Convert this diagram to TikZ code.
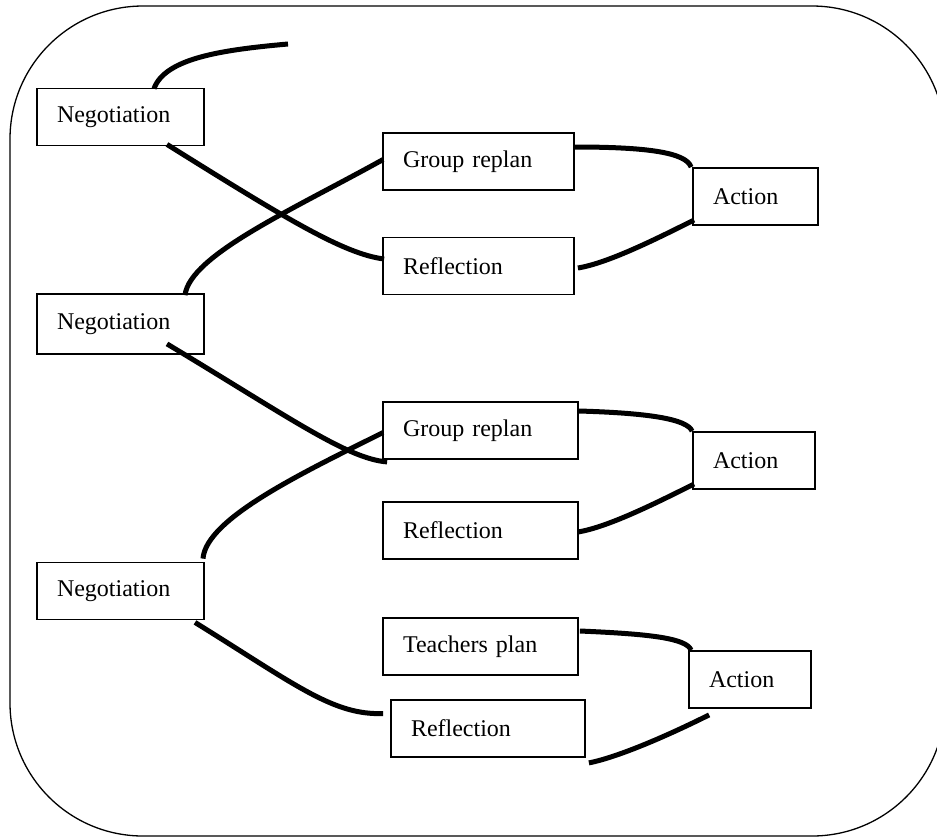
\documentclass[tikz,border=0pt]{standalone}
\usepackage{fontspec}
\setmainfont{Liberation Serif}
\usetikzlibrary{calc}

\begin{document}
\begin{tikzpicture}[x=0.5pt,y=-0.5pt]
\tikzstyle{box}=[rectangle, draw=black, line width=0.9pt, inner xsep=10pt, inner ysep=0pt, minimum height=28.5pt, align=left, font=\fontsize{12}{14}\selectfont]
\tikzstyle{link}=[line width=2.5pt]
\tikzstyle{frame}=[line width=0.65pt, rounded corners=66.5pt]
\useasboundingbox (0,0) rectangle (937,837);
\begin{scope}
\clip (0,0) rectangle (937,837);
\draw[frame] (10,6) rectangle (945,836);
\end{scope}
% left column
\node[box, text width=63.5pt] (nego1) at (120.5,117) {Negotiation};
\node[box, text width=63.5pt, minimum height=30pt] (nego2) at (120.5,324) {Negotiation};
\node[box, text width=63.5pt] (nego3) at (120.5,591) {Negotiation};
% middle column
\node[box, text width=75.5pt] (grp1) at (478.5,161.5) {Group replan};
\node[box, text width=75.5pt] (refl1) at (478.5,266) {Reflection};
\node[box, text width=77.5pt] (grp2) at (480.5,430.5) {Group replan};
\node[box, text width=77.5pt] (refl2) at (480.5,530.5) {Reflection};
\node[box, text width=77.5pt] (teach) at (480.5,646.5) {Teachers plan};
\node[box, text width=77pt] (refl3) at (488,728.5) {Reflection};
% right column
\node[box, text width=42.5pt] (act1) at (755.5,196.5) {Action};
\node[box, text width=41pt] (act2) at (754,460.5) {Action};
\node[box, text width=41pt] (act3) at (750,679.5) {Action};
\coordinate (tail) at (288,44);
% links
\draw[link] ($(nego1.north)+(33.5,1)$) .. controls +(11,-30) and +(-68,6) .. (tail);
\draw[link] ($(nego1.south)+(46.5,-2)$) .. controls +(120,75) and +(-40,-5) .. ($(refl1.west)+(2,-7)$);
\draw[link] ($(nego2.north)+(64.5,2)$) .. controls +(5,-40) and +(-90,50) .. ($(grp1.west)+(1,-2)$);
\draw[link] ($(nego2.south)+(46.5,-11)$) .. controls +(120,72) and +(-40,-3) .. ($(grp2.south west)+(5,2)$);
\draw[link] ($(nego3.north)+(82.5,-3)$) .. controls +(3,-40) and +(-80,40) .. ($(grp2.west)+(1,2)$);
\draw[link] ($(nego3.south)+(74.5,2)$) .. controls +(100,62) and +(-50,2) .. ($(refl3.west)+(-7,-15)$);
\draw[link] ($(grp1.east)+(0,-14.5)$) .. controls +(70,0) and +(-5,-15) .. ($(act1.north west)+(-1,0)$);
\draw[link] ($(refl1.east)+(3,2)$) .. controls +(30,-5) and +(-40,20) .. ($(act1.west)+(2,23.5)$);
\draw[link] ($(grp2.east)+(0,-19.5)$) .. controls +(70,2) and +(-5,-12) .. (act2.north west);
\draw[link] ($(refl2.east)+(-1,1.5)$) .. controls +(30,-5) and +(-40,20) .. ($(act2.west)+(2,23.5)$);
\draw[link] ($(teach.east)+(1,-15.5)$) .. controls +(70,3) and +(-5,-12) .. ($(act3.north west)+(3,0)$);
\draw[link] ($(refl3.south east)+(3,5)$) .. controls +(30,-6) and +(-40,20) .. ($(act3.south west)+(21,6)$);
\end{tikzpicture}
\end{document}
